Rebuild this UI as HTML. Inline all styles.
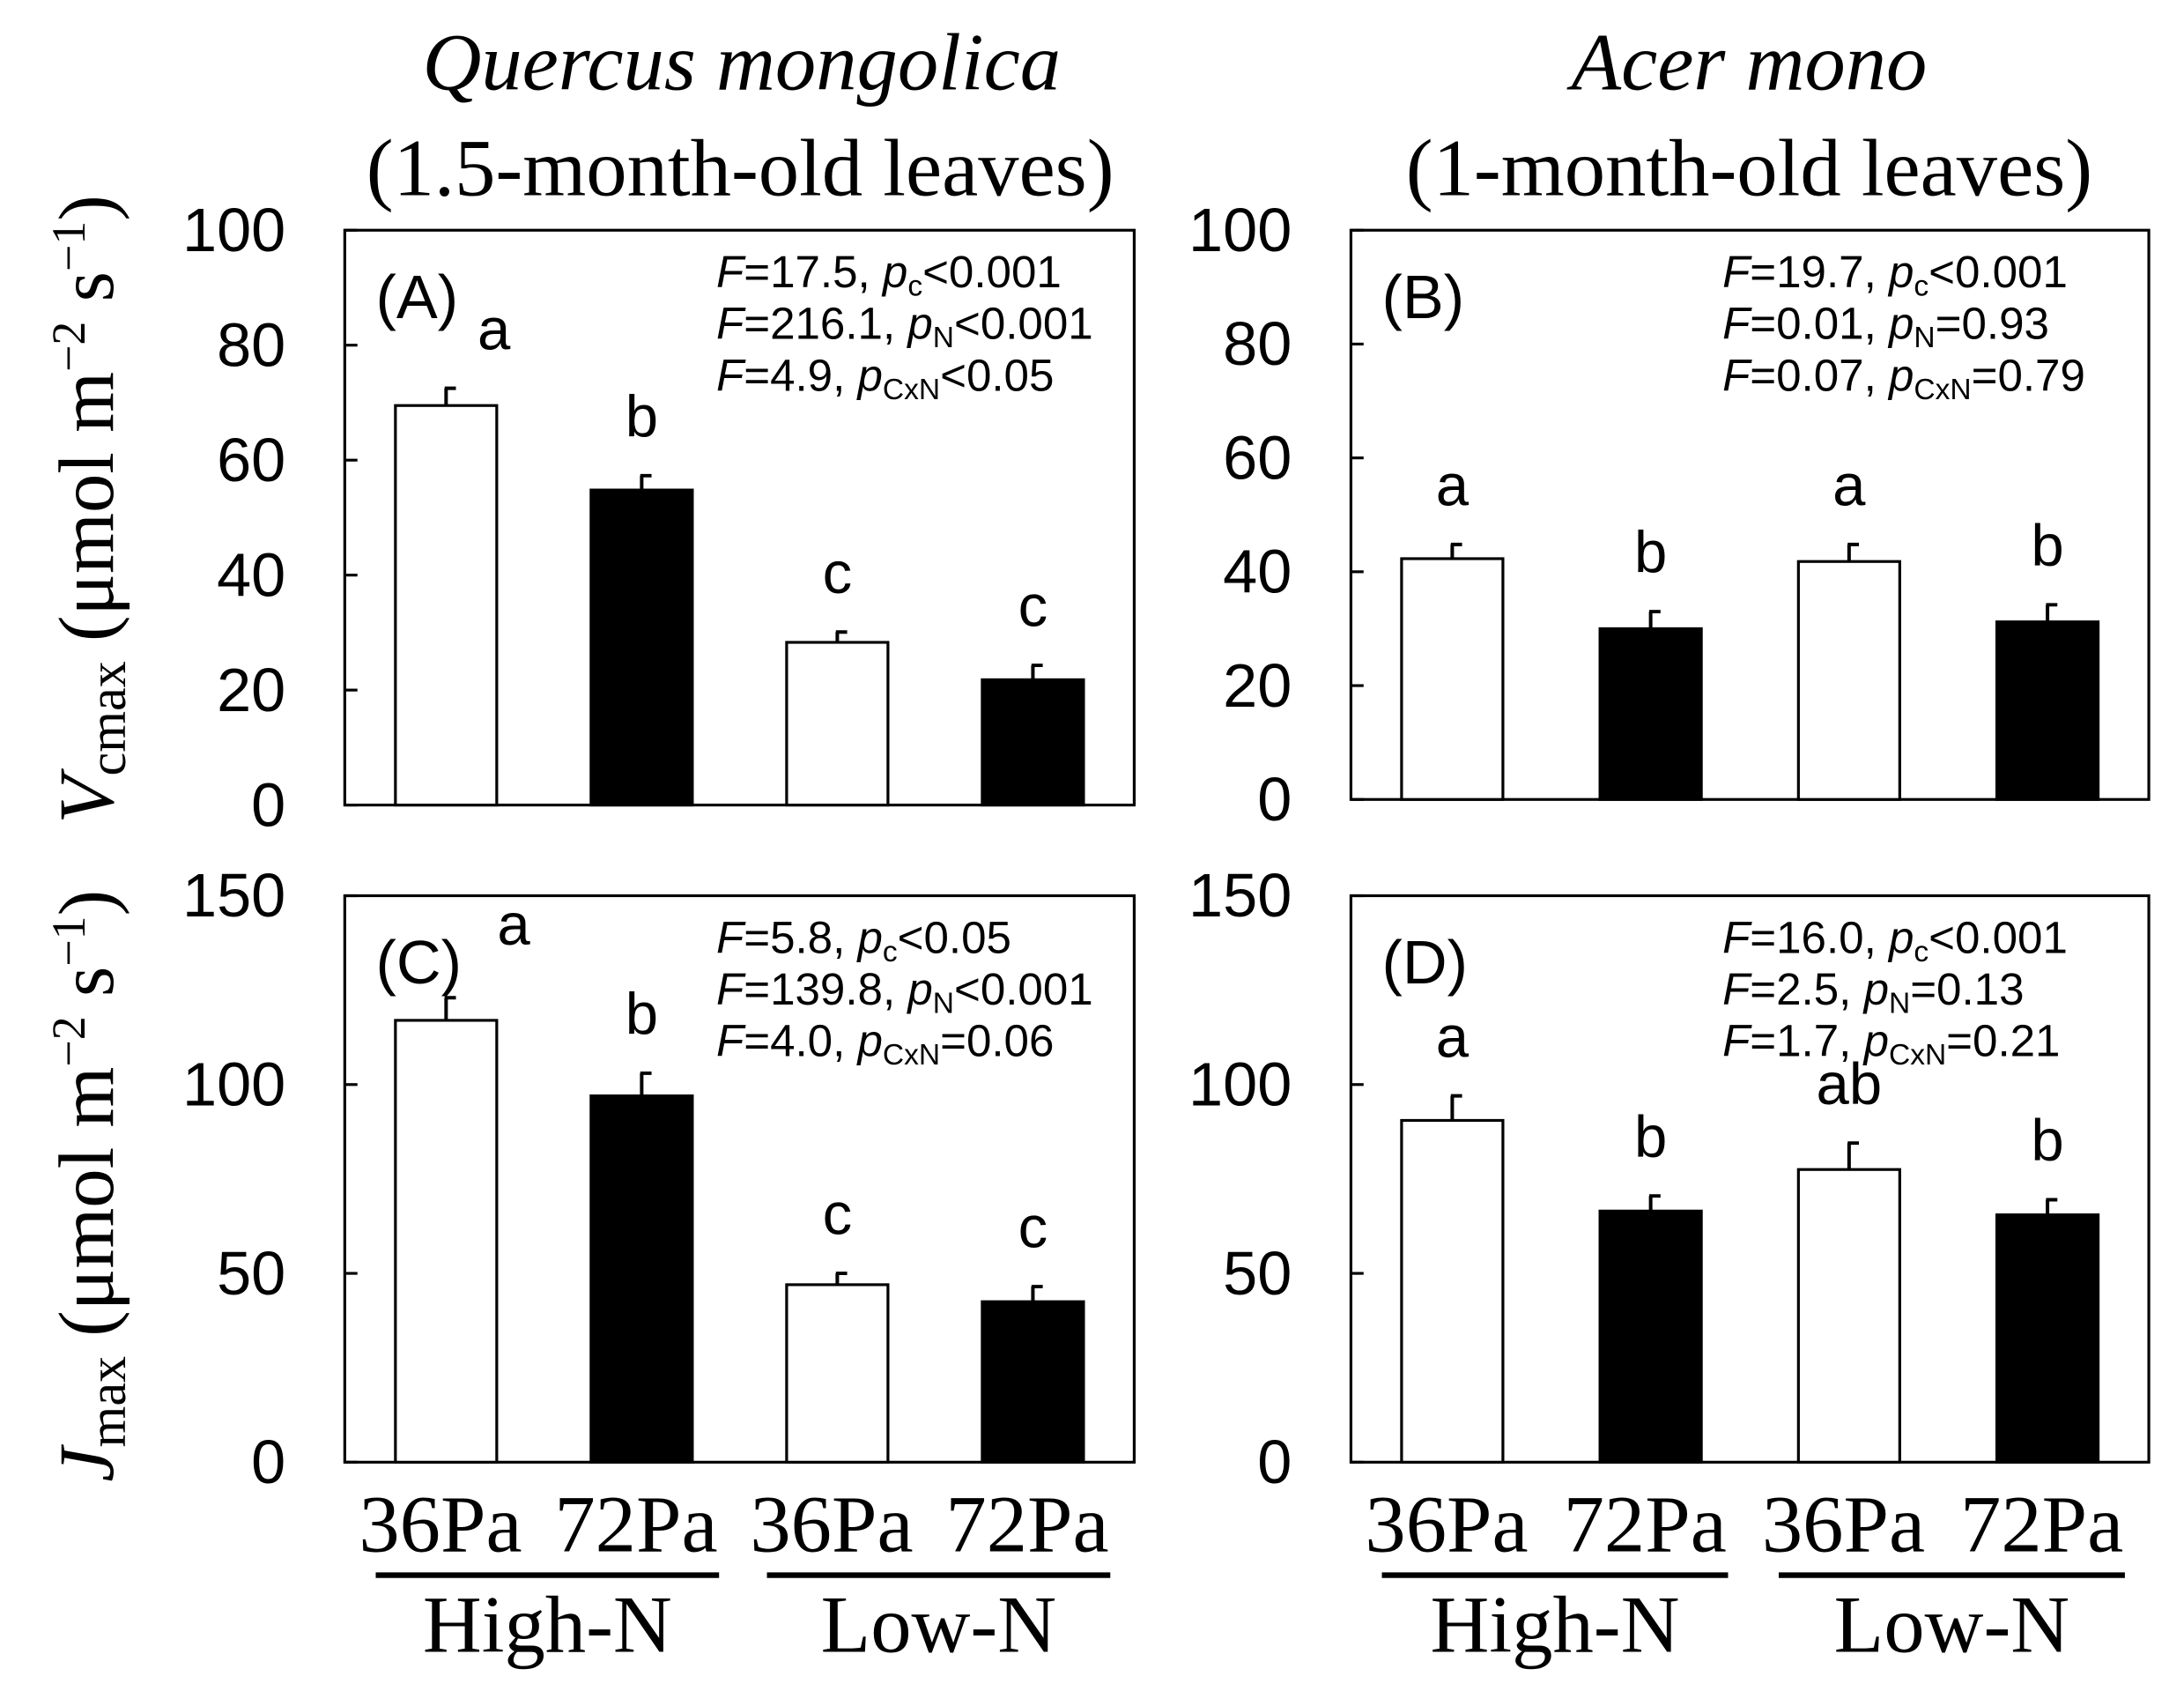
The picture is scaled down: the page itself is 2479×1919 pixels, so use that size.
<!DOCTYPE html>
<html><head><meta charset="utf-8"><style>
html,body{margin:0;padding:0;background:#fff}
svg{display:block}
.sf{font-family:"Liberation Serif",serif}
.ss{font-family:"Liberation Sans",sans-serif}
</style></head><body>
<svg id="fig" width="2479" height="1919" viewBox="0 0 1552 1212" preserveAspectRatio="none" xmlns="http://www.w3.org/2000/svg">
<text class="sf" x="527" y="64" font-size="58" font-style="italic" text-anchor="middle">Quercus mongolica</text>
<text class="sf" x="526" y="140" font-size="58" text-anchor="middle">(1.5-month-old leaves)</text>
<text class="sf" x="1243" y="64" font-size="58" font-style="italic" text-anchor="middle">Acer mono</text>
<text class="sf" x="1243" y="140" font-size="58" text-anchor="middle">(1-month-old leaves)</text>
<text class="sf" transform="translate(80,365) rotate(-90)" font-size="56" text-anchor="middle"><tspan font-style="italic">V</tspan><tspan font-size="38" dy="9">cmax</tspan><tspan dy="-9"> (μmol m</tspan><tspan font-size="34" dy="-20">−2</tspan><tspan dy="20"> s</tspan><tspan font-size="34" dy="-20">−1</tspan><tspan dy="20">)</tspan></text>
<text class="sf" transform="translate(80,850) rotate(-90)" font-size="56" text-anchor="middle"><tspan font-style="italic">J</tspan><tspan font-size="38" dy="9">max</tspan><tspan dy="-9"> (μmol m</tspan><tspan font-size="34" dy="-20">−2</tspan><tspan dy="20"> s</tspan><tspan font-size="34" dy="-20">−1</tspan><tspan dy="20">)</tspan></text>
</svg>
<script>
const categories = ["36Pa","72Pa","36Pa","72Pa"];
const groups = ["High-N","Low-N"];
const valsA = [69.5,54.8,28.3,21.8];
const errA = [3,2.5,1.8,2.5];
const letA = ["a","b","c","c"];
const valsB = [42.3,30,41.8,31.2];
const errB = [2.5,3,3,3];
const letB = ["a","b","a","b"];
const valsC = [117,97,47,42.5];
const errC = [6,6,3,4];
const letC = ["a","b","c","c"];
const valsD = [90.5,66.5,77.5,65.5];
const errD = [6.5,4,7,4];
const letD = ["a","b","ab","b"];
const ticksV = [0,20,40,60,80,100];
const ticksJ = [0,50,100,150];
const statsA = [["17.5","c","<0.001"],["216.1","N","<0.001"],["4.9","CxN","<0.05"]];
const statsB = [["19.7","c","<0.001"],["0.01","N","=0.93"],["0.07","CxN","=0.79"]];
const statsC = [["5.8","c","<0.05"],["139.8","N","<0.001"],["4.0","CxN","=0.06"]];
const statsD = [["16.0","c","<0.001"],["2.5","N","=0.13"],["1.7","CxN","=0.21"]];

const NS="http://www.w3.org/2000/svg";
const svg=document.getElementById('fig');
function mk(tag,attrs,parent){const e=document.createElementNS(NS,tag);for(const k in attrs)e.setAttribute(k,attrs[k]);(parent||svg).appendChild(e);return e;}

function panel(id,x0,x1,y0,y1,ymax,ticks,vals,errs,lets,stats,label,letGap,letDx,letDy){
  const g=mk('g',{});
  
  
  const ys=v=>y1-(v/ymax)*(y1-y0);
  const fr=mk('rect',{x:x0,y:y0,width:x1-x0,height:y1-y0,fill:'none',stroke:'#000','stroke-width':2},g);
  
  
  ticks.forEach(t=>{
    const y=ys(t);
    const tl=mk('line',{x1:x0,x2:x0+9,y1:y,y2:y,stroke:'#000','stroke-width':2},g);
    
    
    const tx=mk('text',{x:x0-42,y:y+15,'font-size':44,'text-anchor':'end',class:'ss'},g);
    tx.textContent=t;
    
    
  });
  const bw=72, step=(x1-x0-2*36-bw)/3;
  vals.forEach((v,i)=>{
    const bx=x0+36+i*step, cx=bx+bw/2, ty=ys(v), ey=ys(v+errs[i]);
    const b=mk('rect',{x:bx,y:ty,width:bw,height:y1-ty,fill:i%2?'#000':'#fff',stroke:'#000','stroke-width':2},g);
    
    
    const e1=mk('path',{d:`M${cx},${ty} V${ey} M${cx-1},${ey} H${cx+7}`,stroke:'#000','stroke-width':2.5,fill:'none'},g);
    
    
    const lt=mk('text',{x:cx+(i===0?letDx:0),y:ey-letGap+(i===0?letDy:0),'font-size':42,'text-anchor':'middle',class:'ss'},g);
    lt.textContent=lets[i];
    
    
  });
  const pl=mk('text',{x:x0+22,y:y0+63,'font-size':44,class:'ss'},g);
  pl.textContent=label;
  
  
  stats.forEach((s,k)=>{
    const t=mk('text',{x:x0+264,y:y0+41+k*37,'font-size':32,class:'ss'},g);
    t.innerHTML=`<tspan font-style="italic">F</tspan>=${s[0]}, <tspan font-style="italic">p</tspan><tspan font-size="21" dy="6">${s[1]}</tspan><tspan dy="-6">${s[2]}</tspan>`;
    
    
  });
  return {bx:i=>x0+36+i*step+bw/2};
}
panel('a',245,806,165,577,100,ticksV,valsA,errA,letA,statsA,'(A)',28,34,0);
panel('b',960,1527,165,573,100,ticksV,valsB,errB,letB,statsB,'(B)',28,0,0);
const pc=panel('c',245,806,642,1048,150,ticksJ,valsC,errC,letC,statsC,'(C)',28,48,-10);
const pd=panel('d',960,1527,642,1048,150,ticksJ,valsD,errD,letD,statsD,'(D)',28,0,0);

[[pc,245,806],[pd,960,1527]].forEach(([p,x0,x1],k)=>{
  categories.forEach((c,i)=>{
    const t=mk('text',{x:p.bx(i)-4,y:1112,'font-size':58,'text-anchor':'middle',class:'sf'});
    t.textContent=c;
    
    
  });
  groups.forEach((gname,j)=>{
    const a=p.bx(2*j)-50, b=p.bx(2*j+1)+55;
    const ln=mk('line',{x1:a,x2:b,y1:1129,y2:1129,stroke:'#000','stroke-width':4});
    
    
    const t=mk('text',{x:(a+b)/2,y:1184,'font-size':58,'text-anchor':'middle',class:'sf'});
    t.textContent=gname;
    
    
  });
});
</script>
</body></html>
